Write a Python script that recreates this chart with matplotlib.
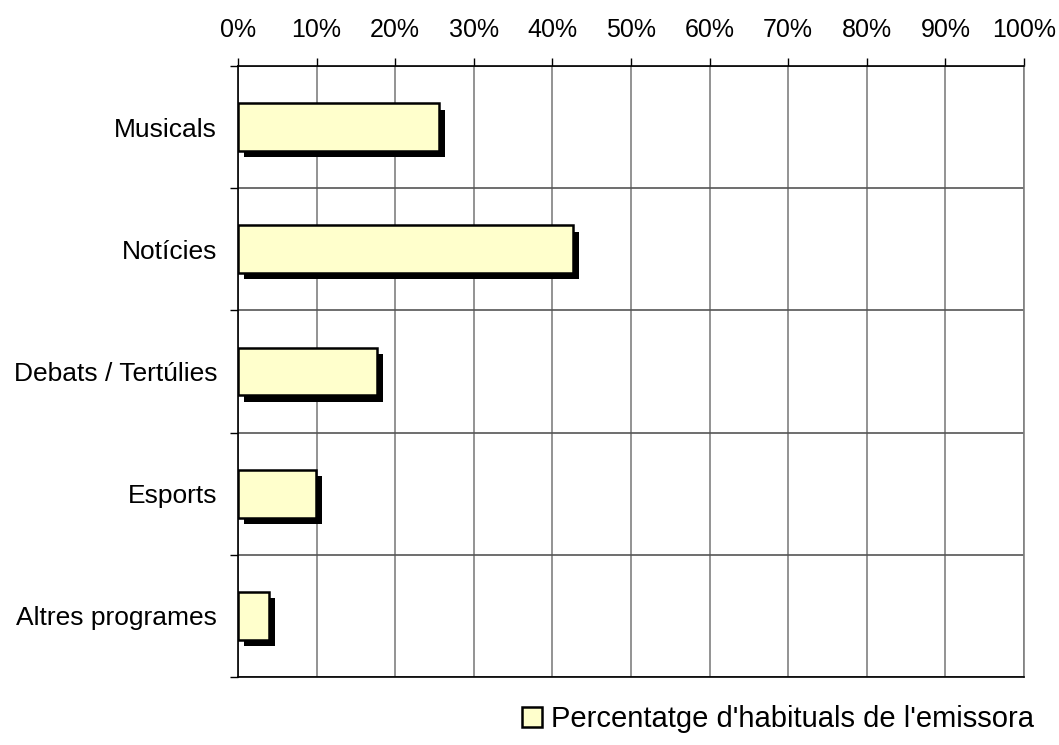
import numpy as np
import matplotlib
matplotlib.use("Agg")
import matplotlib.pyplot as plt
import matplotlib.patheffects as pe
from matplotlib.patches import Patch

categories = ["Musicals", "Notícies", "Debats / Tertúlies", "Esports", "Altres programes"]
values = [25.6, 42.6, 17.7, 9.9, 3.9]
x_ticks = list(range(0, 101, 10))
x_labels = [f"{t}%" for t in x_ticks]
series_name = "Percentatge d'habituals de l'emissora"

plt.rcParams['font.family'] = ['Liberation Sans', 'DejaVu Sans']

fig = plt.figure(figsize=(10.59, 7.45), dpi=100)
ax = fig.add_axes([238 / 1059, 1 - 677 / 745, (1024 - 238) / 1059, (677 - 66) / 745])

y = np.arange(len(categories))
bars = ax.barh(y, values, height=0.39, color="#FFFFCC", edgecolor="black",
               linewidth=1.8, zorder=3)
for b in bars:
    b.set_path_effects([pe.SimplePatchShadow(offset=(4.5, -4.5), shadow_rgbFace="black", alpha=1.0),
                        pe.Normal()])

ax.set_xlim(0, 100)
ax.set_ylim(len(categories) - 0.5, -0.5)

ax.xaxis.tick_top()
ax.set_xticks(x_ticks)
ax.set_xticklabels(x_labels, fontsize=18)
ax.tick_params(axis="x", direction="out", length=6, width=1, color="black", pad=11)

ax.set_yticks(y)
ax.set_yticklabels(categories, fontsize=19)
ax.set_yticks(np.arange(len(categories) + 1) - 0.5, minor=True)
ax.tick_params(axis="y", which="major", length=0, pad=15)
ax.tick_params(axis="y", which="minor", direction="out", length=6, width=1, color="black")

ax.grid(axis="x", which="major", color="#808080", linewidth=1.2, zorder=0)
ax.grid(axis="y", which="minor", color="#555555", linewidth=1.2, zorder=0)
ax.set_axisbelow(True)

for s in ["top", "bottom", "left"]:
    ax.spines[s].set_color("black")
    ax.spines[s].set_linewidth(1.2)
ax.spines["right"].set_color("#808080")
ax.spines["right"].set_linewidth(1.2)

handle = Patch(facecolor="#FFFFCC", edgecolor="black", linewidth=1.8)
fig.legend([handle], [series_name], loc="center right",
           bbox_to_anchor=(1034 / 1059, 1 - 719 / 745), frameon=False, fontsize=21,
           handlelength=0.7, handleheight=0.7, handletextpad=0.3, borderpad=0, borderaxespad=0)

fig.savefig("out.png", dpi=100, facecolor="white")
